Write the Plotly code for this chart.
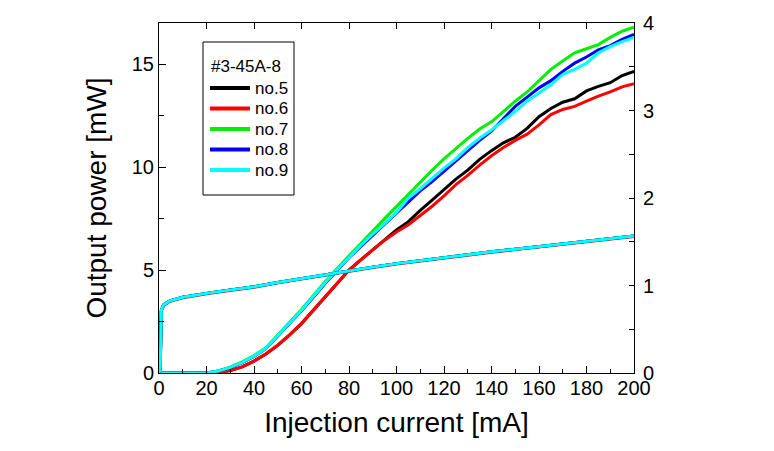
import plotly.graph_objects as go

# ---------------- data ----------------
current_l = [0, 5, 10, 15, 20, 25, 30, 35, 40, 45, 50, 55, 60, 65, 70, 75, 80,
             85, 90, 95, 100, 105, 110, 115, 120, 125, 130, 135, 140, 145, 150,
             155, 160, 165, 170, 175, 180, 185, 190, 195, 200]

power_no5 = [0, 0, 0, 0, 0, 0.03, 0.12, 0.3, 0.58, 0.92, 1.35, 1.85, 2.4, 3.05, 3.7, 4.38, 5.0,
             5.5, 5.99, 6.5, 6.95, 7.35, 7.9, 8.4, 8.9, 9.42, 9.85, 10.38, 10.8, 11.18, 11.45,
             11.88, 12.45, 12.85, 13.15, 13.32, 13.7, 13.92, 14.1, 14.45, 14.65]
power_no6 = [0, 0, 0, 0, 0, 0.03, 0.12, 0.3, 0.58, 0.92, 1.35, 1.85, 2.4, 3.05, 3.7, 4.38, 5.0,
             5.5, 5.97, 6.45, 6.85, 7.2, 7.65, 8.1, 8.6, 9.15, 9.6, 10.1, 10.55, 10.95, 11.3,
             11.6, 12.05, 12.55, 12.8, 12.95, 13.2, 13.45, 13.65, 13.9, 14.05]
power_no7 = [0, 0, 0, 0, 0, 0.1, 0.28, 0.54, 0.85, 1.23, 1.83, 2.45, 3.08, 3.76, 4.45, 5.08, 5.7,
             6.3, 6.9, 7.5, 8.1, 8.7, 9.25, 9.85, 10.4, 10.9, 11.4, 11.85, 12.2, 12.7, 13.2,
             13.65, 14.2, 14.75, 15.15, 15.55, 15.75, 15.95, 16.3, 16.6, 16.8]
power_no8 = [0, 0, 0, 0, 0, 0.1, 0.26, 0.5, 0.8, 1.18, 1.78, 2.4, 3.02, 3.68, 4.36, 4.98, 5.6,
             6.15, 6.7, 7.2, 7.75, 8.35, 8.85, 9.3, 9.8, 10.3, 10.8, 11.3, 11.75, 12.35, 12.95,
             13.4, 13.85, 14.2, 14.65, 15.05, 15.35, 15.7, 15.9, 16.2, 16.45]
power_no9 = [0, 0, 0, 0, 0, 0.1, 0.27, 0.52, 0.82, 1.2, 1.8, 2.42, 3.05, 3.72, 4.4, 5.02, 5.62,
             6.2, 6.75, 7.25, 7.8, 8.5, 8.95, 9.45, 9.95, 10.4, 10.95, 11.4, 11.8, 12.25, 12.7,
             13.2, 13.6, 14.0, 14.5, 14.75, 15.05, 15.55, 15.85, 16.1, 16.3]

current_v = [0, 0.5, 1, 1.5, 2, 4, 6, 10, 15, 20, 25, 30, 40, 50, 60, 70, 80,
             90, 100, 110, 120, 130, 140, 150, 160, 170, 180, 190, 200]
voltage_no5 = [0, 0.05, 0.72, 0.76, 0.78, 0.815, 0.835, 0.865, 0.89, 0.91, 0.93, 0.95, 0.985, 1.035, 1.08, 1.125, 1.165,
               1.21, 1.25, 1.285, 1.32, 1.35, 1.385, 1.415, 1.445, 1.475, 1.505, 1.535, 1.565]
voltage_no6 = [0, 0.05, 0.71, 0.755, 0.775, 0.81, 0.83, 0.86, 0.885, 0.905, 0.925, 0.945, 0.98, 1.03, 1.075, 1.12, 1.16,
               1.205, 1.245, 1.28, 1.315, 1.345, 1.38, 1.41, 1.44, 1.47, 1.5, 1.53, 1.56]
voltage_no7 = [0, 0.08, 0.72, 0.76, 0.78, 0.815, 0.835, 0.865, 0.89, 0.91, 0.93, 0.95, 0.985, 1.035, 1.08, 1.125, 1.165,
               1.21, 1.25, 1.285, 1.32, 1.35, 1.385, 1.415, 1.445, 1.475, 1.505, 1.535, 1.565]
voltage_no8 = [0, 0.05, 0.72, 0.76, 0.78, 0.815, 0.835, 0.865, 0.89, 0.91, 0.93, 0.95, 0.985, 1.035, 1.08, 1.125, 1.165,
               1.21, 1.25, 1.285, 1.32, 1.35, 1.385, 1.415, 1.445, 1.475, 1.505, 1.535, 1.565]
voltage_no9 = [0, 0.05, 0.72, 0.76, 0.78, 0.815, 0.835, 0.865, 0.89, 0.91, 0.93, 0.95, 0.985, 1.035, 1.08, 1.125, 1.165,
               1.21, 1.25, 1.285, 1.32, 1.35, 1.385, 1.415, 1.445, 1.475, 1.505, 1.535, 1.567]

names = ["no.5", "no.6", "no.7", "no.8", "no.9"]
colors = ["#000000", "#ff0000", "#00ee00", "#0000ff", "#00ffff"]
powers = [power_no5, power_no6, power_no7, power_no8, power_no9]
voltages = [voltage_no5, voltage_no6, voltage_no7, voltage_no8, voltage_no9]

legend_title = "#3-45A-8"
x_title = "Injection current [mA]"
y_title = "Output power [mW]"

# ---------------- figure ----------------
W, H = 774, 451
L_, R_, T_, B_ = 159, 140, 23, 78
pw, ph = W - L_ - R_, H - T_ - B_


def px_x(px):
    return (px - L_) / pw


def px_y(py):
    return (H - B_ - py) / ph


fig = go.Figure()
for name, col, p, v in zip(names, colors, powers, voltages):
    fig.add_trace(go.Scatter(x=current_l, y=p, mode="lines", name=name, showlegend=False,
                             line=dict(color=col, width=3), yaxis="y"))
    fig.add_trace(go.Scatter(x=current_v, y=v, mode="lines", name=name, showlegend=False,
                             line=dict(color=col, width=3), yaxis="y2"))
# carrier for the top tick axis
fig.add_trace(go.Scatter(x=[], y=[], xaxis="x2", yaxis="y", showlegend=False, hoverinfo="skip"))

tickfont = dict(family="Liberation Sans, Arial", size=20, color="black")
titlefont = dict(family="Liberation Sans, Arial", size=28, color="black")
legfont = dict(family="Liberation Sans, Arial", size=17, color="black")

# legend box (drawn as layout decoration)
shapes = [dict(type="rect", xref="paper", yref="paper",
               x0=px_x(203), x1=px_x(294), y0=px_y(195), y1=px_y(42),
               line=dict(color="black", width=1), fillcolor="rgba(0,0,0,0)")]
annotations = [dict(text=legend_title, xref="paper", yref="paper", x=px_x(209), y=px_y(67),
                    xanchor="left", yanchor="middle", showarrow=False, font=legfont)]
for i, (name, col) in enumerate(zip(names, colors)):
    yc = 88 + 20.5 * i
    shapes.append(dict(type="line", xref="paper", yref="paper",
                       x0=px_x(210), x1=px_x(250), y0=px_y(yc), y1=px_y(yc),
                       line=dict(color=col, width=4)))
    annotations.append(dict(text=name, xref="paper", yref="paper", x=px_x(253), y=px_y(yc),
                            xanchor="left", yanchor="middle", showarrow=False, font=legfont))

fig.update_layout(
    width=W, height=H,
    margin=dict(l=L_, r=R_, t=T_, b=B_, autoexpand=False),
    paper_bgcolor="white", plot_bgcolor="white",
    showlegend=False,
    xaxis=dict(range=[0, 200], dtick=20, tick0=0, ticks="inside", ticklen=7, tickwidth=1,
               tickcolor="black", showline=True, linecolor="black", linewidth=1,
               showgrid=False, zeroline=False, tickfont=tickfont, ticklabelstandoff=-3,
               minor=dict(dtick=10, ticks="inside", ticklen=4, tickcolor="black", showgrid=False),
               title=dict(text=x_title, font=titlefont, standoff=14)),
    xaxis2=dict(range=[0, 200], dtick=20, tick0=0, overlaying="x", side="top",
                ticks="inside", ticklen=6, tickcolor="black", showline=True,
                linecolor="black", linewidth=1, showticklabels=False,
                showgrid=False, zeroline=False),
    yaxis=dict(range=[0, 17], dtick=5, tick0=0, ticks="inside", ticklen=7, tickwidth=1,
               tickcolor="black", showline=True, linecolor="black", linewidth=1,
               showgrid=False, zeroline=False, tickfont=tickfont,
               minor=dict(dtick=2.5, ticks="inside", ticklen=4.5, tickcolor="black", showgrid=False),
               title=dict(text=y_title, font=titlefont, standoff=16)),
    yaxis2=dict(range=[0, 4], dtick=1, tick0=0, overlaying="y", side="right",
                ticks="inside", ticklen=5, tickwidth=1, tickcolor="black",
                showline=True, linecolor="black", linewidth=1,
                showgrid=False, zeroline=False, tickfont=tickfont, ticklabelstandoff=4,
                minor=dict(dtick=0.5, ticks="inside", ticklen=5, tickcolor="black", showgrid=False)),
    shapes=shapes,
    annotations=annotations,
)

fig.write_html("out.html")
